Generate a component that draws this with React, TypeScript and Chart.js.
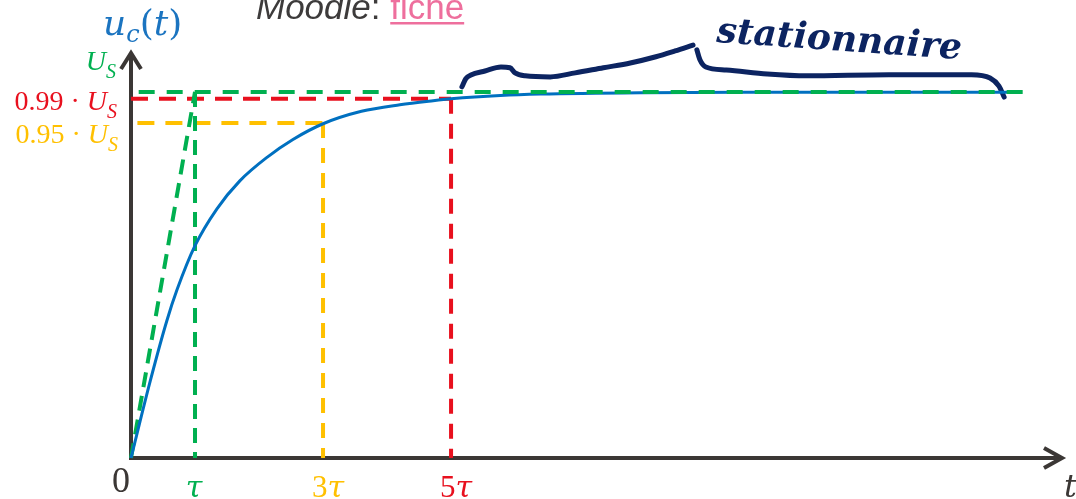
import React, { useEffect, useRef } from "react";
import { Chart, registerables } from "chart.js";

Chart.register(...registerables);

const W = 1076;
const H = 499;

// time in units of tau, voltage in units of U_S (as drawn in the picture)
const curveT = [0, 0.3, 0.56, 0.72, 1.0, 1.34, 1.7, 2.13, 2.53, 3.0, 3.6, 4.2, 4.72, 5.0, 5.77, 6.4, 8.0, 9.5, 13.92];
const curveU = [0, 0.21, 0.375, 0.46, 0.58, 0.68, 0.757, 0.822, 0.87, 0.913, 0.947, 0.965, 0.976, 0.981, 0.99, 0.994, 0.998, 0.999, 0.999];

const levelUS = 1;
const level99 = 0.981;
const level95 = 0.915;
const tTau = 1;
const t3Tau = 3;
const t5Tau = 5;
const tStart = 0.12;
const tEnd = 13.97;
const xMax = 14.56;
const yMax = 1.109;

const braceLeftT = [5.17, 5.23, 5.31, 5.53, 5.78, 5.92, 6.0, 6.16, 6.55, 6.94, 7.38, 7.8, 8.2, 8.5, 8.78];
const braceLeftU = [1.014, 1.036, 1.046, 1.057, 1.068, 1.066, 1.052, 1.044, 1.041, 1.052, 1.066, 1.079, 1.096, 1.112, 1.128];
const braceRightT = [8.84, 8.89, 8.98, 9.3, 9.94, 10.56, 11.84, 13.13, 13.42, 13.56, 13.64];
const braceRightU = [1.115, 1.087, 1.068, 1.06, 1.049, 1.044, 1.047, 1.047, 1.038, 1.016, 0.986];

const xTickValues = [0, tTau, t3Tau, t5Tau];
const xTickLabels = ["0", "τ", "3τ", "5τ"];

const GREEN = "#00b050";
const RED = "#e8101e";
const YELLOW = "#ffc000";
const BLUE = "#0070c0";
const LABEL_BLUE = "#1b74c0";
const AXIS = "#3b3735";
const NAVY = "#0c2461";
const PINK = "#ee6f9d";

const MATH = '"DejaVu Serif"';
const SERIF = '"Liberation Serif"';

type Pt = { x: number; y: number };
const zip = (xs: number[], ys: number[]): Pt[] => xs.map((x, i) => ({ x, y: ys[i] }));

const seg = (pts: Pt[], color: string, dash: number[], width = 4) => ({
  data: pts,
  borderColor: color,
  backgroundColor: color,
  borderWidth: width,
  borderDash: dash,
  pointRadius: 0,
  fill: false,
  tension: 0,
  clip: false as any,
  borderCapStyle: "butt" as const,
});

const smooth = (pts: Pt[], color: string, width: number, cap: "butt" | "round") => ({
  ...seg(pts, color, [], width),
  cubicInterpolationMode: "monotone" as const,
  borderCapStyle: cap,
  borderJoinStyle: "round" as const,
});

type Part = { t: string; f: string; dy?: number };
function drawParts(ctx: CanvasRenderingContext2D, parts: Part[], x: number, y: number, align: "left" | "right" | "center", color: string) {
  const widths = parts.map((p) => {
    ctx.font = p.f;
    return ctx.measureText(p.t).width;
  });
  const total = widths.reduce((a, b) => a + b, 0);
  let cx = align === "right" ? x - total : align === "center" ? x - total / 2 : x;
  ctx.fillStyle = color;
  ctx.textAlign = "left";
  ctx.textBaseline = "alphabetic";
  parts.forEach((p, i) => {
    ctx.font = p.f;
    ctx.fillText(p.t, cx, y + (p.dy || 0));
    cx += widths[i];
  });
  return total;
}

const decorPlugin = {
  id: "decor",
  beforeDatasetsDraw(chart: any) {
    const ctx: CanvasRenderingContext2D = chart.ctx;
    const xs = chart.scales.x;
    const ys = chart.scales.y;
    const x0 = xs.getPixelForValue(0);
    const y0 = ys.getPixelForValue(0);
    const yTop = ys.getPixelForValue(yMax);
    const xRight = xs.getPixelForValue(xMax);
    ctx.save();
    ctx.strokeStyle = AXIS;
    ctx.lineWidth = 4;
    ctx.lineCap = "butt";
    ctx.lineJoin = "miter";
    ctx.beginPath();
    ctx.moveTo(x0, y0 + 2);
    ctx.lineTo(x0, yTop + 1);
    ctx.stroke();
    ctx.beginPath();
    ctx.moveTo(x0 - 10, yTop + 17);
    ctx.lineTo(x0, yTop + 1);
    ctx.lineTo(x0 + 10, yTop + 17);
    ctx.stroke();
    ctx.beginPath();
    ctx.moveTo(x0 - 2, y0);
    ctx.lineTo(xRight - 1, y0);
    ctx.stroke();
    ctx.beginPath();
    ctx.moveTo(xRight - 19, y0 - 10);
    ctx.lineTo(xRight - 1, y0);
    ctx.lineTo(xRight - 19, y0 + 10);
    ctx.stroke();
    ctx.restore();
  },
  afterDraw(chart: any) {
    const ctx: CanvasRenderingContext2D = chart.ctx;
    const xs = chart.scales.x;
    const ys = chart.scales.y;
    const x0 = xs.getPixelForValue(0);
    ctx.save();

    // y axis title u_c(t)
    drawParts(
      ctx,
      [
        { t: "u", f: `italic 36px ${MATH}` },
        { t: "c", f: `italic 24px ${MATH}`, dy: 7 },
        { t: "(", f: `36px ${MATH}` },
        { t: "t", f: `italic 36px ${MATH}` },
        { t: ")", f: `36px ${MATH}` },
      ],
      x0 - 28,
      35,
      "left",
      LABEL_BLUE
    );

    // level labels
    const right = x0 - 14;
    drawParts(
      ctx,
      [
        { t: "U", f: `italic 28px ${SERIF}` },
        { t: "S", f: `italic 20px ${SERIF}`, dy: 8 },
      ],
      right - 1,
      ys.getPixelForValue(levelUS) - 22,
      "right",
      GREEN
    );
    drawParts(
      ctx,
      [
        { t: "0.99 · ", f: `28px ${SERIF}` },
        { t: "U", f: `italic 28px ${SERIF}` },
        { t: "S", f: `italic 20px ${SERIF}`, dy: 8 },
      ],
      right,
      ys.getPixelForValue(level99) + 11,
      "right",
      RED
    );
    drawParts(
      ctx,
      [
        { t: "0.95 · ", f: `28px ${SERIF}` },
        { t: "U", f: `italic 28px ${SERIF}` },
        { t: "S", f: `italic 20px ${SERIF}`, dy: 8 },
      ],
      right + 1,
      ys.getPixelForValue(level95) + 20,
      "right",
      YELLOW
    );

    // x tick labels
    const tickColors = [AXIS, GREEN, YELLOW, RED];
    xTickValues.forEach((v, i) => {
      const px = xs.getPixelForValue(v);
      const lbl = xTickLabels[i];
      if (i === 0) {
        drawParts(ctx, [{ t: lbl, f: `36px ${SERIF}` }], px - 10, 492, "center", tickColors[i]);
      } else {
        const parts: Part[] =
          lbl.length > 1
            ? [
                { t: lbl.slice(0, -1), f: `31px ${SERIF}` },
                { t: "τ", f: `italic 30px ${MATH}` },
              ]
            : [{ t: lbl, f: `italic 30px ${MATH}` }];
        drawParts(ctx, parts, px + (lbl.length > 1 ? 5 : -1), 497, "center", tickColors[i]);
      }
    });

    // x axis title t
    drawParts(ctx, [{ t: "t", f: `italic 32px ${MATH}` }], xs.getPixelForValue(xMax) + 1, 497, "left", AXIS);

    // Moodle: fiche
    let cx = 256;
    cx += drawParts(ctx, [{ t: "Moodle", f: `italic 35px "Liberation Sans"` }], cx, 19, "left", "#3d3b3b");
    cx += drawParts(ctx, [{ t: ": ", f: `35px "Liberation Sans"` }], cx, 19, "left", "#3d3b3b");
    const fw = drawParts(ctx, [{ t: "fiche", f: `35px "Liberation Sans"` }], cx, 19, "left", PINK);
    ctx.fillStyle = PINK;
    ctx.fillRect(cx, 22, fw, 2.5);

    // stationnaire (handwritten note)
    ctx.save();
    ctx.translate(716, 42);
    ctx.rotate((4 * Math.PI) / 180);
    ctx.fillStyle = NAVY;
    ctx.font = `italic bold 36px ${MATH}`;
    ctx.textAlign = "left";
    ctx.fillText("stationnaire", 0, 0);
    ctx.restore();

    ctx.restore();
  },
};

export default function App() {
  const ref = useRef<HTMLCanvasElement | null>(null);
  useEffect(() => {
    if (!ref.current) return;
    const chart = new Chart(ref.current, {
      type: "line",
      data: {
        datasets: [
          seg([{ x: tStart, y: levelUS }, { x: tEnd, y: levelUS }], GREEN, [16, 12]),
          smooth(zip(curveT, curveU), BLUE, 3, "butt"),
          seg([{ x: 0, y: 0 }, { x: tTau, y: levelUS }], GREEN, [15, 9]),
          seg([{ x: tTau, y: levelUS }, { x: tTau, y: 0 }], GREEN, [15, 9]),
          seg([{ x: 0, y: level99 }, { x: t5Tau, y: level99 }], RED, [17, 11]),
          seg([{ x: t5Tau, y: level99 }, { x: t5Tau, y: 0 }], RED, [15, 10]),
          seg([{ x: 0.1, y: level95 }, { x: t3Tau, y: level95 }], YELLOW, [17, 11]),
          seg([{ x: t3Tau, y: level95 }, { x: t3Tau, y: 0 }], YELLOW, [15, 10]),
          smooth(zip(braceLeftT, braceLeftU), NAVY, 5, "round"),
          smooth(zip(braceRightT, braceRightU), NAVY, 5, "round"),
        ],
      },
      options: {
        animation: false,
        responsive: false,
        events: [],
        layout: { padding: { left: 131, right: 13, top: 52, bottom: 41 } },
        scales: {
          x: { type: "linear", min: 0, max: xMax, display: false },
          y: { type: "linear", min: 0, max: yMax, display: false },
        },
        plugins: { legend: { display: false }, tooltip: { enabled: false } },
      } as any,
      plugins: [decorPlugin],
    });
    return () => chart.destroy();
  }, []);
  return (
    <div style={{ position: "fixed", left: 0, top: 0, width: W, height: H, background: "#fff" }}>
      <canvas ref={ref} width={W} height={H} style={{ display: "block", width: W, height: H }} />
    </div>
  );
}
